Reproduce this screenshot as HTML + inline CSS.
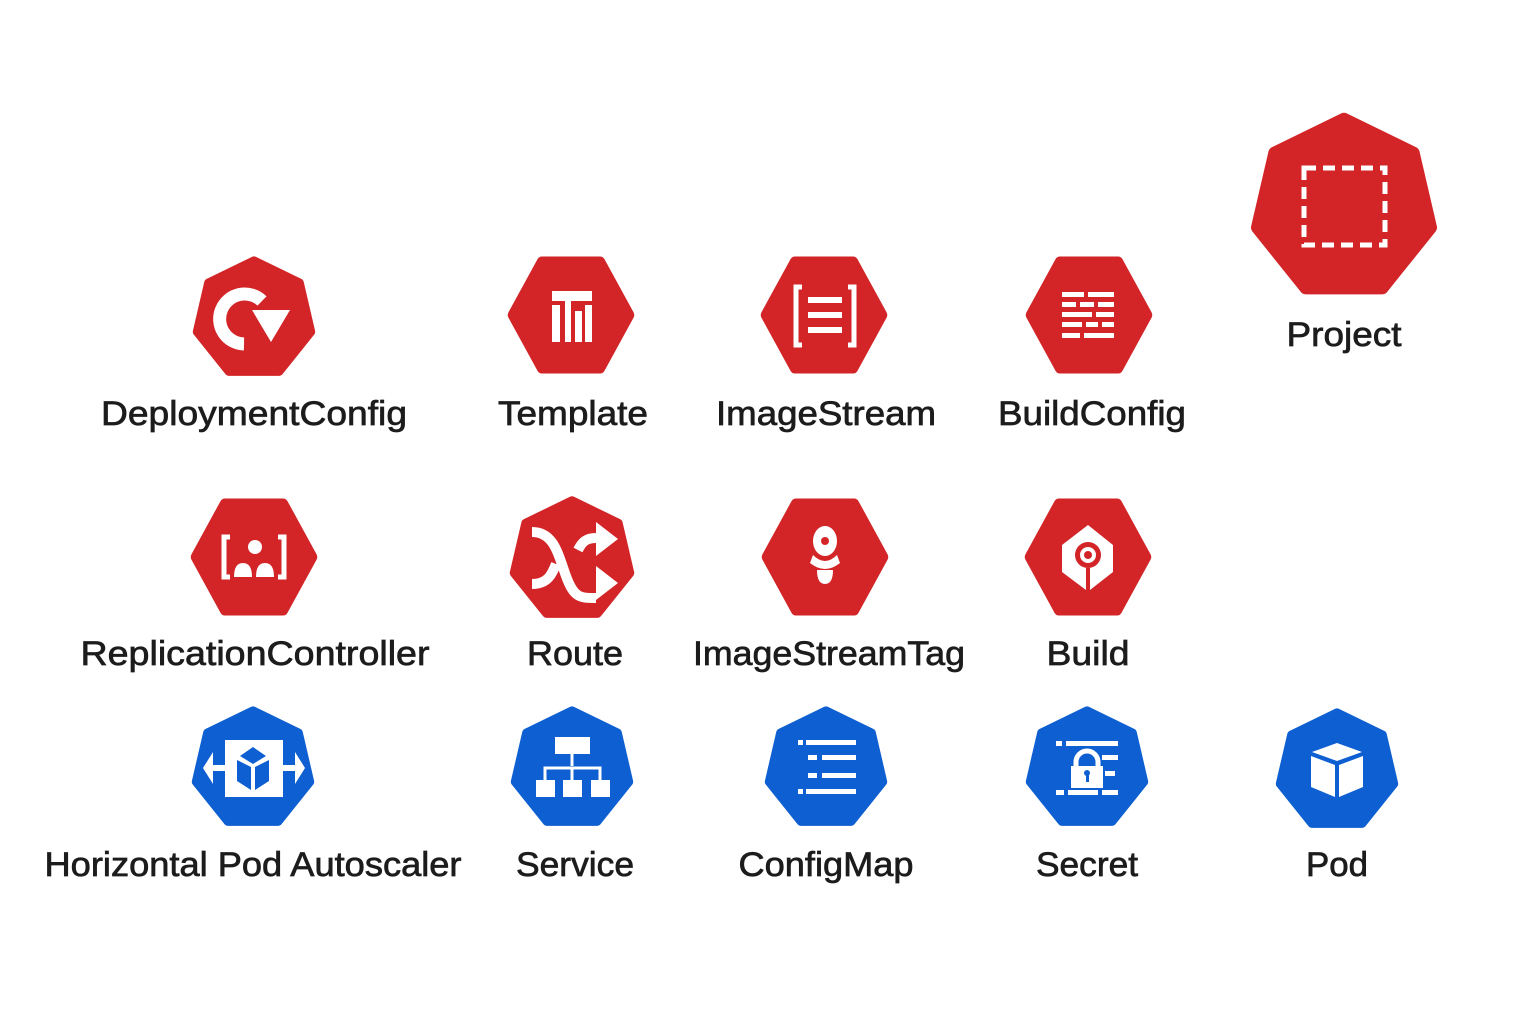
<!DOCTYPE html>
<html><head><meta charset="utf-8"><style>
html,body{margin:0;padding:0;background:#fff}
svg{display:block}
text{font-family:"Liberation Sans","DejaVu Sans",sans-serif;font-size:34px;fill:#1c1c1c;stroke:#1c1c1c;stroke-width:0.7px;text-anchor:middle}
</style></head><body>
<svg width="1536" height="1024" viewBox="0 0 1536 1024" xmlns="http://www.w3.org/2000/svg">
<defs>
<polygon id="hept" points="0,-100 78,-62 97.5,22 43,90 -43,90 -97.5,22 -78,-62" stroke-linejoin="round"/>
<polygon id="hex" points="100,0 50,87 -50,87 -100,0 -50,-87 50,-87" stroke-linejoin="round"/>
</defs>
<g fill="#d32527" stroke="#d32527">
<use href="#hept" transform="translate(254,319) scale(0.58)" stroke-width="16"/>
<use href="#hex" transform="translate(571,315) scale(0.58,0.61)" stroke-width="18"/>
<use href="#hex" transform="translate(824,315) scale(0.58,0.61)" stroke-width="18"/>
<use href="#hex" transform="translate(1089,315) scale(0.58,0.61)" stroke-width="18"/>
<use href="#hept" transform="translate(1344,208) scale(0.89)" stroke-width="14"/>
<use href="#hex" transform="translate(254,557) scale(0.58,0.61)" stroke-width="18"/>
<use href="#hept" transform="translate(572,560) scale(0.59)" stroke-width="16"/>
<use href="#hex" transform="translate(825,557) scale(0.58,0.61)" stroke-width="18"/>
<use href="#hex" transform="translate(1088,557) scale(0.58,0.61)" stroke-width="18"/>
</g>
<g fill="#0e5fd1" stroke="#0e5fd1">
<use href="#hept" transform="translate(253,769) scale(0.58)" stroke-width="16"/>
<use href="#hept" transform="translate(572,769) scale(0.58)" stroke-width="16"/>
<use href="#hept" transform="translate(826,769) scale(0.58)" stroke-width="16"/>
<use href="#hept" transform="translate(1087,769) scale(0.58)" stroke-width="16"/>
<use href="#hept" transform="translate(1337,771) scale(0.58)" stroke-width="16"/>
</g>
<g fill="#fff" stroke="none">
<path d="M244,344 A25,25 0 1 1 262,301" fill="none" stroke="#fff" stroke-width="13"/>
<polygon points="252,310 290,310 271,342"/>
<rect x="552" y="291" width="40" height="10"/>
<rect x="552" y="305" width="8" height="37"/><rect x="565" y="305" width="6" height="37"/>
<rect x="575" y="311" width="7" height="31"/><rect x="585" y="305" width="7" height="37"/>
<rect x="565" y="301" width="6" height="4"/>
<path d="M802,287 h-6 v58 h6 M848,287 h6 v58 h-6" fill="none" stroke="#fff" stroke-width="5"/>
<rect x="808" y="297" width="34" height="6"/><rect x="808" y="312" width="34" height="6"/><rect x="808" y="327" width="34" height="6"/>
<g>
<rect x="1062" y="292" width="22" height="5"/><rect x="1088" y="292" width="26" height="5"/>
<rect x="1062" y="302" width="14" height="5"/><rect x="1080" y="302" width="14" height="5"/><rect x="1098" y="302" width="16" height="5"/>
<rect x="1062" y="312" width="30" height="5"/><rect x="1096" y="312" width="18" height="5"/>
<rect x="1062" y="322" width="20" height="5"/><rect x="1086" y="322" width="12" height="5"/><rect x="1102" y="322" width="12" height="5"/>
<rect x="1062" y="333" width="18" height="5"/><rect x="1084" y="333" width="30" height="5"/>
</g>
<rect x="1304" y="168" width="81" height="77" fill="none" stroke="#fff" stroke-width="5" stroke-dasharray="12,7"/>
<path d="M230,537 h-6 v40 h6 M278,537 h6 v40 h-6" fill="none" stroke="#fff" stroke-width="5"/>
<circle cx="255" cy="547" r="7"/>
<path d="M234,577 q0,-14 9,-14 q9,0 9,14 z M256,577 q0,-14 9,-14 q9,0 9,14 z"/>
<path d="M532,532 c22,0 26,22 34,44 c8,22 14,22 30,22 M532,584 c16,0 20,-10 24,-20 M578,550 c4,-8 8,-12 18,-12" fill="none" stroke="#fff" stroke-width="10"/>
<polygon points="596,522 618,539 596,556"/><polygon points="596,566 618,583 596,600"/>
<ellipse cx="825" cy="541" rx="12" ry="15"/>
<path d="M813,555 q12,12 24,0 l3,8 q-15,12 -30,0 z"/>
<path d="M817,570 h16 q0,14 -8,14 q-8,0 -8,-14 z"/>
<circle cx="825" cy="541" r="4" fill="#d32527"/>
<polygon points="1088,525 1113,545 1113,572 1090,590 1086,590 1062,572 1062,545"/>
<circle cx="1088" cy="555" r="13" fill="#d32527"/><circle cx="1088" cy="555" r="8" fill="#fff"/><circle cx="1088" cy="555" r="4" fill="#d32527"/>
<rect x="1086" y="568" width="4" height="22" fill="#d32527"/>
<rect x="225" y="740" width="58" height="57"/>
<polygon points="203,768 213,752 213,784"/><polygon points="305,768 295,752 295,784"/>
<rect x="211" y="765" width="16" height="6"/><rect x="281" y="765" width="16" height="6"/>
<polygon points="253,747 266,756 253,764 240,756" fill="#0e5fd1"/>
<polygon points="237,760 251,767 251,790 237,781" fill="#0e5fd1"/>
<polygon points="255,767 269,760 269,781 255,790" fill="#0e5fd1"/>
<rect x="555" y="737" width="35" height="17"/>
<path d="M572,754 v12 M545,780 v-12 h55 v12 M572,768 v12" fill="none" stroke="#fff" stroke-width="3"/>
<rect x="536" y="780" width="19" height="17"/><rect x="563" y="780" width="19" height="17"/><rect x="591" y="780" width="19" height="17"/>
<rect x="798" y="740" width="5" height="5"/><rect x="806" y="740" width="50" height="5"/>
<rect x="808" y="755" width="9" height="5"/><rect x="822" y="755" width="34" height="5"/>
<rect x="808" y="773" width="9" height="5"/><rect x="822" y="773" width="34" height="5"/>
<rect x="798" y="789" width="5" height="5"/><rect x="806" y="789" width="50" height="5"/>
<rect x="1056" y="741" width="6" height="5"/><rect x="1066" y="741" width="52" height="5"/>
<rect x="1102" y="755" width="16" height="5"/><rect x="1105" y="771" width="10" height="5"/>
<rect x="1056" y="790" width="8" height="5"/><rect x="1068" y="790" width="30" height="5"/><rect x="1102" y="790" width="16" height="5"/>
<path d="M1076,768 v-6 a11,11 0 0 1 22,0 v6" fill="none" stroke="#fff" stroke-width="5"/>
<rect x="1071" y="766" width="32" height="22"/>
<circle cx="1087" cy="773" r="3" fill="#0e5fd1"/><rect x="1086" y="773" width="3" height="9" fill="#0e5fd1"/>
<polygon points="1337,743 1362,752 1337,761 1312,752"/>
<polygon points="1311,756 1335,765 1335,797 1311,787"/>
<polygon points="1339,765 1363,756 1363,787 1339,797"/>
</g>
<text x="254" y="425" textLength="306" lengthAdjust="spacingAndGlyphs">DeploymentConfig</text>
<text x="573" y="425" textLength="150" lengthAdjust="spacingAndGlyphs">Template</text>
<text x="826" y="425" textLength="220" lengthAdjust="spacingAndGlyphs">ImageStream</text>
<text x="1092" y="425" textLength="188" lengthAdjust="spacingAndGlyphs">BuildConfig</text>
<text x="1344" y="346" textLength="115" lengthAdjust="spacingAndGlyphs">Project</text>
<text x="255" y="665" textLength="349" lengthAdjust="spacingAndGlyphs">ReplicationController</text>
<text x="575" y="665" textLength="96" lengthAdjust="spacingAndGlyphs">Route</text>
<text x="829" y="665" textLength="272" lengthAdjust="spacingAndGlyphs">ImageStreamTag</text>
<text x="1088" y="665" textLength="83" lengthAdjust="spacingAndGlyphs">Build</text>
<text x="253" y="876" textLength="417" lengthAdjust="spacingAndGlyphs">Horizontal Pod Autoscaler</text>
<text x="575" y="876" textLength="118" lengthAdjust="spacingAndGlyphs">Service</text>
<text x="826" y="876" textLength="175" lengthAdjust="spacingAndGlyphs">ConfigMap</text>
<text x="1087" y="876" textLength="102" lengthAdjust="spacingAndGlyphs">Secret</text>
<text x="1337" y="876" textLength="62" lengthAdjust="spacingAndGlyphs">Pod</text>
</svg>
</body></html>
